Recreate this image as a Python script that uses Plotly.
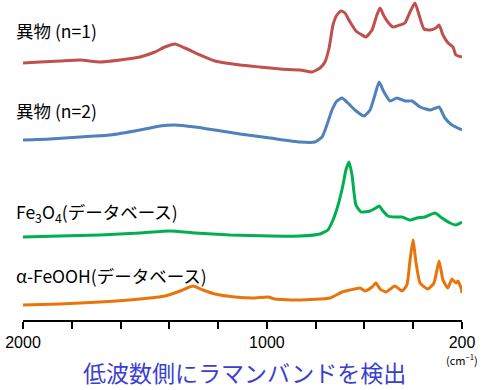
import plotly.graph_objects as go

# Wavenumbers (cm^-1) and stacked intensities (arbitrary, offset per trace)
w_n1 = [2000,1930,1848,1766,1684,1602,1520,1459,1418,1377,1336,1274,1213,1110,1028,946,864,815,782,762,745,729,713,696,680,659,635,610,594,569,549,536,520,504,483,454,434,413,393,376,356,331,307,294,278,257,237,225,200]
v_n1 = [257,258,259,260,258,260,263,268,273,276,272,265,259,255,253,251,250,248,252,258,272,295,305,309,307,298,289,285,283,290,305,312,304,298,293,295,297,308,317,305,291,290,292,295,285,277,273,265,263]

w_n2 = [2000,1889,1766,1643,1520,1438,1377,1295,1213,1110,987,864,803,774,754,733,713,692,668,639,602,577,557,540,520,495,467,434,405,372,331,294,270,241,200]
v_n2 = [180,181,183,185,190,194,195,193,190,186,182,178,178,183,195,210,219,222,217,210,204,210,225,238,228,219,222,219,219,213,210,213,202,195,190]

w_fe3o4 = [2000,1848,1684,1520,1397,1295,1151,987,864,782,750,729,708,688,676,663,651,635,614,577,553,540,524,504,475,446,413,385,352,311,282,249,225,200]
v_fe3o4 = [83,84,85,87,89,87,85,84,84,86,90,100,115,135,150,158,145,115,108,109,112,114,109,104,103,103,100,102,103,107,102,97,95,98]

w_feooh = [2000,1848,1684,1520,1418,1356,1303,1262,1213,1131,1049,996,967,864,741,692,659,618,598,569,553,536,512,475,446,426,413,401,389,372,340,315,294,278,258,241,225,217,204,200]
v_feooh = [15,16,18,21,24,29,34,30,26,23,22,23,21,20,22,28,30,32,29,33,37,31,28,34,29,35,60,80,58,37,31,37,59,40,32,41,37,39,32,27]

labels = ["異物 (n=1)", "異物 (n=2)", "Fe<sub>3</sub>O<sub>4</sub>(データベース)", "α-FeOOH(データベース)"]
colors = ["#C0504D", "#4F81BD", "#00B050", "#E8740C"]
tick_vals = [2000,1800,1600,1400,1200,1000,800,600,400,200]
tick_text = ["2000","","","","","1000","","","","200"]

fig = go.Figure()
for w, v, c in [(w_n1, v_n1, colors[0]), (w_n2, v_n2, colors[1]),
                (w_fe3o4, v_fe3o4, colors[2]), (w_feooh, v_feooh, colors[3])]:
    fig.add_trace(go.Scatter(x=w, y=v, mode="lines",
                             line=dict(color=c, width=3, shape="spline", smoothing=0.5),
                             showlegend=False, hoverinfo="skip"))

jp = "Noto Sans CJK JP"
label_y = [290, 210, 107, 45]
for t, y in zip(labels, label_y):
    fig.add_annotation(x=0.0, xref="paper", xshift=-9, y=y, yref="y", text=t,
                       showarrow=False, xanchor="left", yanchor="middle",
                       font=dict(family=jp, size=17.5, color="black"))

# plot area spans pixel 0..320 vertically -> paper units = (320 - px)/320
fig.add_annotation(x=1.0, xref="paper", y=(320 - 359) / 320, yref="paper",
                   text="(cm<sup>−1</sup>)",
                   showarrow=False, xanchor="center", yanchor="middle",
                   font=dict(family=jp, size=11, color="black"))
fig.add_annotation(x=0.5, xref="paper", xshift=2, y=(320 - 372) / 320, yref="paper",
                   text="低波数側にラマンバンドを検出", showarrow=False,
                   xanchor="center", yanchor="middle",
                   font=dict(family=jp, size=23, color="#3B3FCF"))

fig.update_layout(
    width=484, height=390,
    margin=dict(l=23, r=22, t=0, b=70),
    plot_bgcolor="white", paper_bgcolor="white",
    xaxis=dict(range=[2000, 200], tickmode="array", tickvals=tick_vals, ticktext=tick_text,
               ticks="outside", ticklen=7, tickwidth=2, tickcolor="black",
               showline=True, linecolor="black", linewidth=2, showgrid=False, zeroline=False,
               automargin=False,
               tickfont=dict(family="Liberation Sans", size=16, color="black")),
    yaxis=dict(range=[0, 320], visible=False, showgrid=False, zeroline=False),
)
fig.write_html("out.html", config={"displayModeBar": False},
               post_script="document.body.style.margin='0';")
